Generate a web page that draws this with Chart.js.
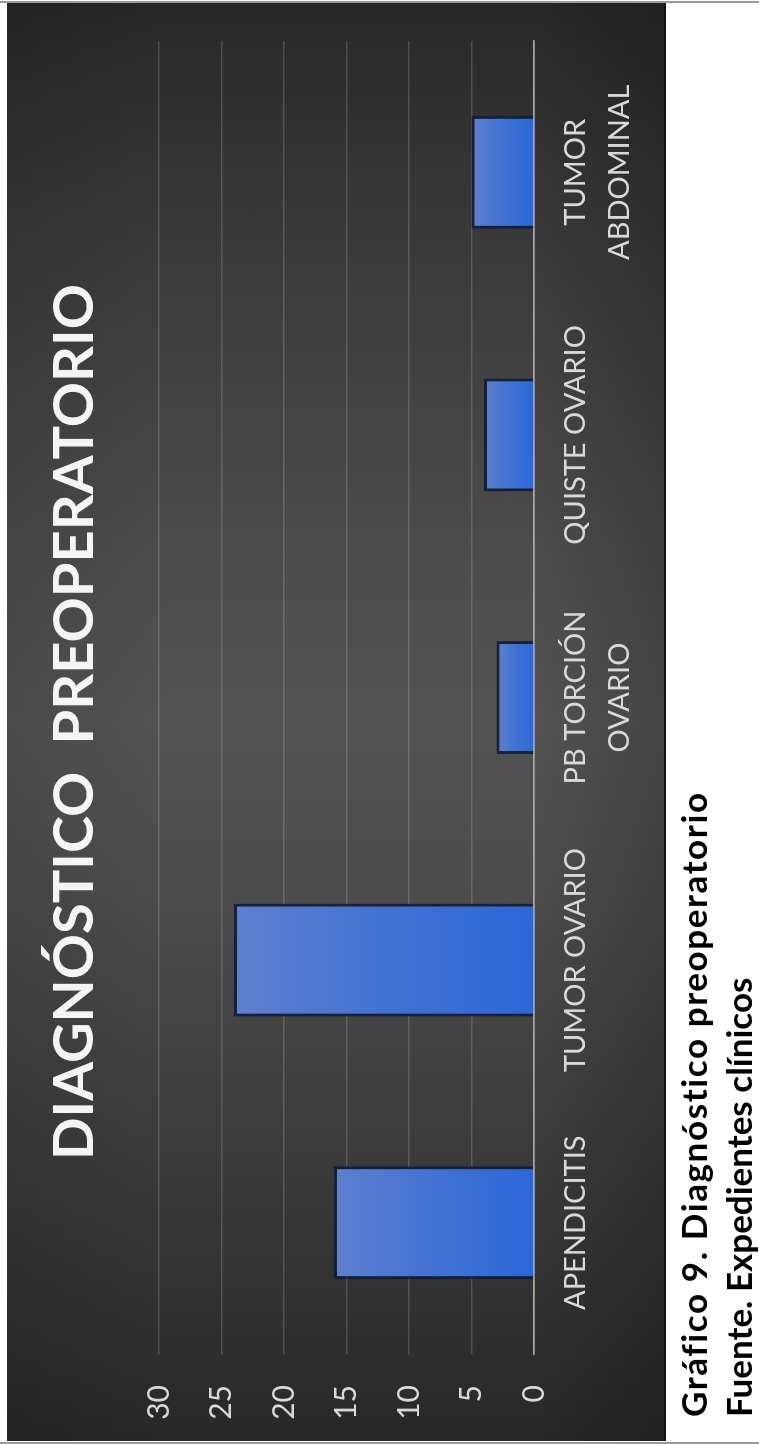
<!DOCTYPE html>
<html lang="es">
<head>
<meta charset="utf-8">
<title>Diagnóstico preoperatorio</title>
<script src="https://cdn.jsdelivr.net/npm/chart.js@4.4.1/dist/chart.umd.min.js"></script>
<style>
  html, body { margin: 0; padding: 0; width: 759px; height: 1444px; overflow: hidden; background: #fff; }
  /* The figure is laid out landscape (1444 x 759) and turned a quarter turn onto the portrait page. */
  #stage {
    position: absolute; left: 0; top: 0;
    width: 1444px; height: 759px;
    transform-origin: 0 0;
    transform: translateY(1444px) rotate(-90deg);
    background: #fff;
  }
  #panel {
    position: absolute; left: 3px; top: 7px; width: 1438px; height: 657px;
    background: linear-gradient(to right, #282828 0%, #393939 18%, #4c4c4c 38%, #535353 50%, #4c4c4c 62%, #393939 84%, #282828 100%);
    border-bottom: 2px solid #111;
  }
  #panel::after {
    content: ""; position: absolute; inset: 0;
    background: linear-gradient(to bottom, rgba(0,0,0,0.10) 0%, rgba(0,0,0,0) 25%, rgba(0,0,0,0) 80%, rgba(0,0,0,0.18) 100%);
  }
  .edge { position: absolute; top: 0; width: 2px; height: 759px; background: #9a9a9a; }
  #chart { position: absolute; left: 0; top: 0; }
  #caption {
    position: absolute; left: 27px; top: 671px;
    font-family: Lato, "Open Sans", sans-serif; font-weight: bold;
    font-size: 35px; line-height: 45px; color: #000; white-space: nowrap;
  }
  #caption .l1 { letter-spacing: 1.6px; }
</style>
</head>
<body>
<div id="stage">
  <div id="panel"></div>
  <div class="edge" style="left:0"></div>
  <div class="edge" style="left:1441px"></div>
  <canvas id="chart" width="1444" height="759"></canvas>
  <div id="caption"><span class="l1">Gráfico 9. Diagnóstico preoperatorio</span><br><span>Fuente. Expedientes clínicos</span></div>
</div>
<script>
// Diagnoses and number of cases
const categories = ['APENDICITIS', 'TUMOR OVARIO', ['PB TORCIÓN', 'OVARIO'], 'QUISTE OVARIO', ['TUMOR', 'ABDOMINAL']];
const casos = [16, 24, 3, 4, 5];
const yTicks = [0, 5, 10, 15, 20, 25, 30];
const chartTitle = 'DIAGNÓSTICO  PREOPERATORIO';

const labelColor = '#d9d9d9';

// Each bar is shaded from a pale blue at its tip to a deeper blue at its base.
function barFill(ctx) {
  const chart = ctx.chart;
  const y = chart.scales && chart.scales.y;
  if (!y || ctx.type !== 'data') return '#3f6fd4';
  const tip = y.getPixelForValue(ctx.raw);
  const base = y.getPixelForValue(0);
  if (!isFinite(tip) || !isFinite(base) || tip === base) return '#3f6fd4';
  const g = chart.ctx.createLinearGradient(0, tip, 0, base);
  g.addColorStop(0, '#5e80cf');
  g.addColorStop(0.5, '#4272d3');
  g.addColorStop(1, '#2c67d8');
  return g;
}

new Chart(document.getElementById('chart'), {
  type: 'bar',
  data: {
    labels: categories,
    datasets: [{
      data: casos,
      backgroundColor: barFill,
      borderColor: 'rgba(16,28,58,0.9)',
      borderWidth: 3,
      borderSkipped: 'start',
      categoryPercentage: 1,
      barPercentage: 0.43
    }]
  },
  options: {
    responsive: false,
    animation: false,
    devicePixelRatio: 1,
    layout: { padding: 0 },
    plugins: {
      legend: { display: false },
      tooltip: { enabled: false },
      title: {
        display: true,
        text: chartTitle,
        color: '#f4f4f4',
        font: { family: 'Lato', size: 56, weight: 'bold', lineHeight: 1.2 },
        padding: { top: 41.4, bottom: 50.4 }
      }
    },
    scales: {
      x: {
        offset: true,
        grid: { display: false, drawTicks: false },
        border: { display: true, color: '#a8a8a8', width: 1.5 },
        ticks: {
          color: labelColor,
          font: { family: 'Lato', size: 29, lineHeight: 1.5 },
          padding: 20,
          maxRotation: 0,
          minRotation: 0,
          autoSkip: false
        },
        afterFit(scale) { scale.height = 225; }
      },
      y: {
        min: 0,
        max: 30,
        afterBuildTicks(scale) { scale.ticks = yTicks.map(v => ({ value: v })); },
        grid: {
          drawTicks: false,
          color: (c) => (c.tick && c.tick.value === 0) ? '#a8a8a8' : 'rgba(255,255,255,0.16)',
          lineWidth: 1.5
        },
        border: { display: false },
        ticks: {
          color: labelColor,
          font: { family: 'Lato', size: 30 },
          padding: 31
        },
        afterFit(scale) { scale.width = 90; }
      },
      // empty right-hand margin axis: keeps the plot clear of the panel edge
      yMargin: {
        position: 'right',
        min: 0,
        max: 30,
        grid: { display: false, drawTicks: false },
        border: { display: false },
        ticks: { display: false },
        afterFit(scale) { scale.width = 41; }
      }
    }
  }
});
</script>
</body>
</html>
